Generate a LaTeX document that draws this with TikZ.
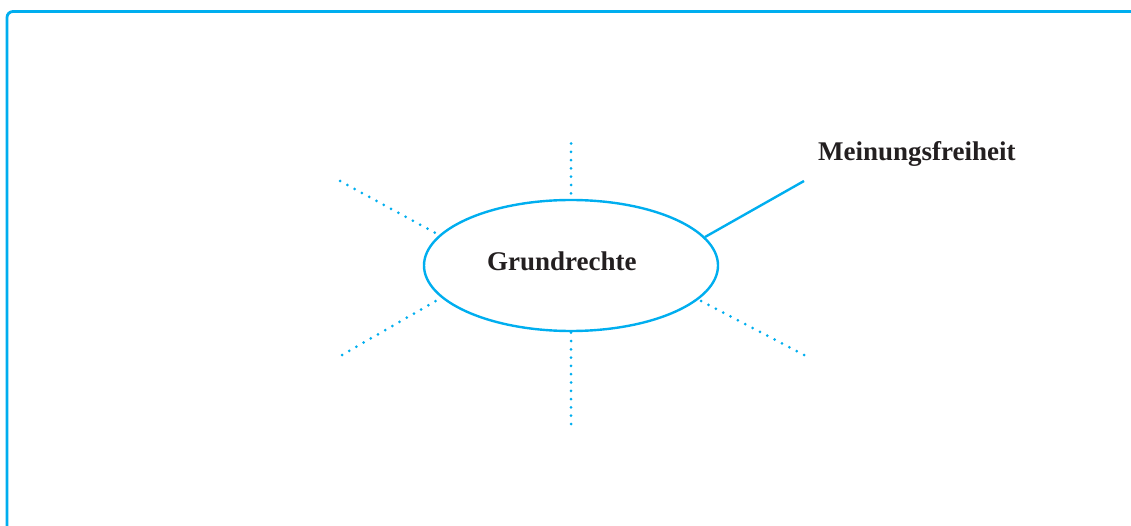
\documentclass[tikz,border=0pt]{standalone}
\usepackage{fontspec}
\setmainfont{Liberation Serif}
\usetikzlibrary{shapes.geometric}
\definecolor{cy}{RGB}{0,174,239}
\definecolor{ink}{RGB}{35,31,32}
\tikzset{
  frame/.style={draw=cy, line width=2.8pt, rounded corners=6pt},
  oval/.style={draw=cy, line width=2.4pt, ellipse, minimum width=294pt, minimum height=131pt, inner sep=0pt},
  txt/.style={font=\fontsize{27}{32}\selectfont\bfseries, text=ink, inner sep=0pt, anchor=base west},
  dotline/.style={draw=cy, line width=3pt, line cap=round, dash pattern=on 0pt off 8.3pt},
  solidline/.style={draw=cy, line width=2.4pt}
}
\begin{document}
\begin{tikzpicture}[x=1pt,y=1pt]
\useasboundingbox (0,0) rectangle (1131,525);
\draw[frame] (7,-20) -- (7,513.5) -- (1150,513.5);
\node[oval] (g) at (571,259.5) {};
\node[txt] (gt) at (487,254) {Grundrechte};
\node[txt] (mf) at (818,364) {Meinungsfreiheit};
\coordinate (ctop) at (571,381.5);
\coordinate (cbot) at (571,101);
\coordinate (ctl) at (340,344);
\coordinate (cbl) at (342,170);
\coordinate (cbr) at (804,170);
\coordinate (ctr) at (804,344);
\draw[dotline] (ctop) -- (g.north);
\draw[dotline] (cbot) -- (g.south);
\draw[dotline] (ctl) -- (g.167.6);
\draw[dotline] (cbl) -- (g.194.6);
\draw[dotline] (cbr) -- (g.345.9);
\draw[solidline] (g.12) -- (ctr);
\end{tikzpicture}
\end{document}
